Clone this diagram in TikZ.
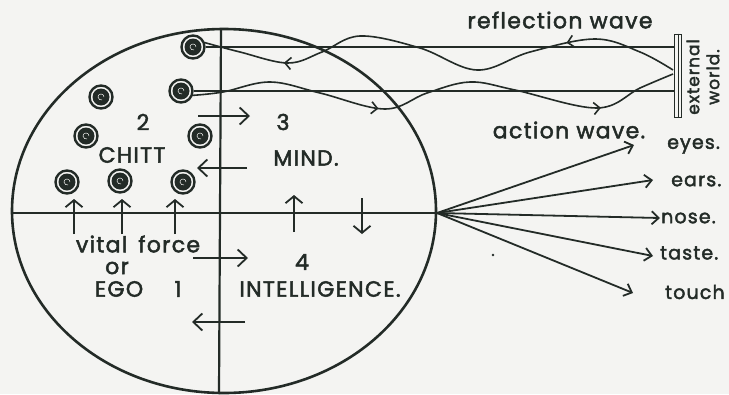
\documentclass[tikz,border=0pt]{standalone}
\usepackage{fontspec}
\setmainfont{Poppins}[FakeBold=2.2, LetterSpace=6]
\usetikzlibrary{arrows.meta,decorations.markings,positioning}
\definecolor{Tinta}{HTML}{232B27}
\definecolor{Papel}{HTML}{F4F4F2}

\begin{document}
\begin{tikzpicture}[
  x=1pt, y=-1pt,
  every node/.style={font=\fontsize{22}{24}\selectfont, text=Tinta, inner sep=0pt},
  ink/.style={draw=Tinta, line width=1.8pt},
  flow/.style={ink, -{Straight Barb[length=9pt,width=17pt]}},
  lift/.style={ink, -{Straight Barb[length=7pt,width=17pt]}},
  sense/.style={ink, -{Straight Barb[length=7pt,width=13pt]}},
  coil/.style={circle, ink, line width=2.4pt, minimum size=23pt, inner sep=0pt,
    path picture={\fill[Tinta] (path picture bounding box.center) circle (8.5pt);
      \draw[Papel, line width=0.5pt] (path picture bounding box.center)
        ++(3pt,0) arc (0:290:3pt);}},
  wavepath/.style={ink, line width=1.6pt, postaction={decorate}},
  small/.style={font=\fontsize{19}{21}\selectfont}
]
  \fill[Papel] (0,0) rectangle (729,394);
  \useasboundingbox (0,0) rectangle (729,394);

  % the mind circle and its quarters
  \draw[ink, line width=2.6pt] (224,211) ellipse (212pt and 182pt);
  \coordinate (hub) at (437,213);
  \draw[ink, line width=2.2pt] (13,213) -- (hub);
  \draw[ink, line width=2.2pt] (221,29) -- (219,394);

  % chitt coils
  \node[coil] (c1) at (193,47) {};
  \node[coil] (c2) at (181,91) {};
  \node[coil] (c3) at (101,97) {};
  \node[coil] (c4) at (86,136) {};
  \node[coil] (c5) at (200,136) {};
  \node[coil] (c6) at (67,182) {};
  \node[coil] (c7) at (120,181) {};
  \node[coil] (c8) at (183,182) {};

  % external world
  \node[ink, minimum width=7pt, minimum height=83pt, inner sep=0pt] (wall) at (678,76) {};
  \draw[ink, line width=1pt] (wall.north) -- (wall.south);
  \node[rotate=90, align=center, font=\fontsize{17}{20}\selectfont] (world) at (703,77)
    {external\\world.};

  % straight rays and waves
  \draw[ink, line width=1.5pt] (c1.east) -- (c1.east -| wall.west);
  \draw[ink, line width=1.5pt] (c2.east) -- (c2.east -| wall.west);
  \draw[wavepath, decoration={markings,
      mark=at position 0.165 with {\arrowreversed{Straight Barb[length=6pt,width=12pt]}},
      mark=at position 0.77 with {\arrowreversed{Straight Barb[length=6pt,width=12pt]}}}]
    plot[smooth, tension=0.6] coordinates {(c1.20) (240,52) (288,63) (322,52) (360,36)
      (420,48) (477,70) (530,52) (595,39) (640,52) (673,70)};
  \draw[wavepath, decoration={markings,
      mark=at position 0.38 with {\arrow{Straight Barb[length=6pt,width=12pt]}},
      mark=at position 0.84 with {\arrow{Straight Barb[length=6pt,width=12pt]}}}]
    plot[smooth, tension=0.6] coordinates {(c2.-20) (223,92) (270,82) (320,93) (385,109)
      (427,93) (470,82) (515,90) (597,108) (640,88) (673,74)};
  \node (refl) at (560,20) {reflection wave};
  \node (act) at (569,130) {action wave.};

  % inner arrows
  \draw[flow] (198,116) -- (250,116);
  \draw[flow] (247,168) -- (197,168);
  \draw[flow] (193,258) -- (248,258);
  \draw[flow] (245,322) -- (192,322);
  \foreach \x in {74,122,175} {
    \draw[lift] (\x,234) -- (\x,199);
  }
  \draw[lift] (294,232) -- (294,195);
  \draw[lift] (362,198) -- (362,234);

  % labels inside
  \node (two) at (143,122) {2};
  \node (three) at (283,122) {3};
  \node (chitt) at (132,155) {CHITT};
  \node (mind) at (306,158) {MIND.};
  \node (vital) at (138,244) {vital\hspace{.5em}force};
  \node (or) at (117,268) {or};
  \node (ego) at (119,289) {EGO};
  \node (one) at (178,289) {1};
  \node (four) at (302,262) {4};
  \node (intel) at (320,289) {INTELLIGENCE.};
  \fill[Tinta] (493,255) circle (1.4pt);

  % senses
  \coordinate (eyesTip) at (634,145);
  \coordinate (earsTip) at (653,180);
  \coordinate (noseTip) at (660,218);
  \coordinate (tasteTip) at (653,256);
  \coordinate (touchTip) at (633,293);
  \foreach \t in {eyesTip,earsTip,noseTip,tasteTip,touchTip} {
    \draw[sense] (hub) -- (\t);
  }
  \node[small, anchor=west] (eyes) at (667,146) {eyes.};
  \node[small, anchor=west] (ears) at (671,181) {ears.};
  \node[small, anchor=west] (nose) at (661,218) {nose.};
  \node[small, anchor=west] (taste) at (660,253) {taste.};
  \node[small, anchor=west] (touch) at (665,292) {touch};
\end{tikzpicture}
\end{document}
